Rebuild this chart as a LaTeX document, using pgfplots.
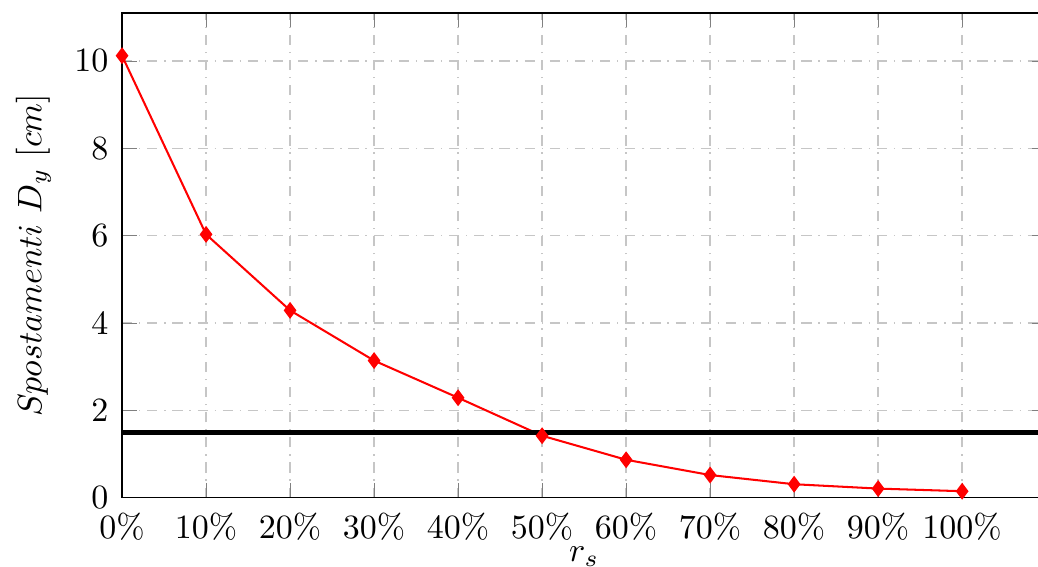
\documentclass[border=0pt]{standalone}
\usepackage{pgfplots}
\pgfplotsset{compat=1.18}
\begin{document}
\begin{tikzpicture}
\begin{axis}[
  name=ax,
  scale only axis,
  width=271.8pt, height=142.6pt,
  xmin=0, xmax=110, ymin=0, ymax=11.1,
  xtick={0,10,...,100},
  ytick={0,2,...,10},
  xticklabel={\pgfmathprintnumber{\tick}\%},
  xticklabel style={yshift=-1pt},
  yticklabel style={xshift=-0.5pt},
  xlabel={$r_s$},
  ylabel={$Spostamenti\ D_y\ [cm]$},
  xlabel style={yshift=5pt},
  grid=major,
  grid style={dash dot, gray!45},
]
\addplot[red, semithick, mark=diamond*, mark size=2pt] coordinates {
  (0,10.12) (10,6.03) (20,4.29) (30,3.14) (40,2.29) (50,1.42)
  (60,0.87) (70,0.52) (80,0.31) (90,0.21) (100,0.15)
};
% threshold at 1.5 cm
\addplot[black, line width=1.5pt] coordinates {(0,1.5) (110,1.5)};
\end{axis}
\pgfresetboundingbox
\path[use as bounding box]
  ([xshift=-35.9pt,yshift=-20.3pt]ax.south west)
  rectangle ([xshift=269.4pt,yshift=3.8pt]ax.north west);
\end{tikzpicture}
\end{document}
